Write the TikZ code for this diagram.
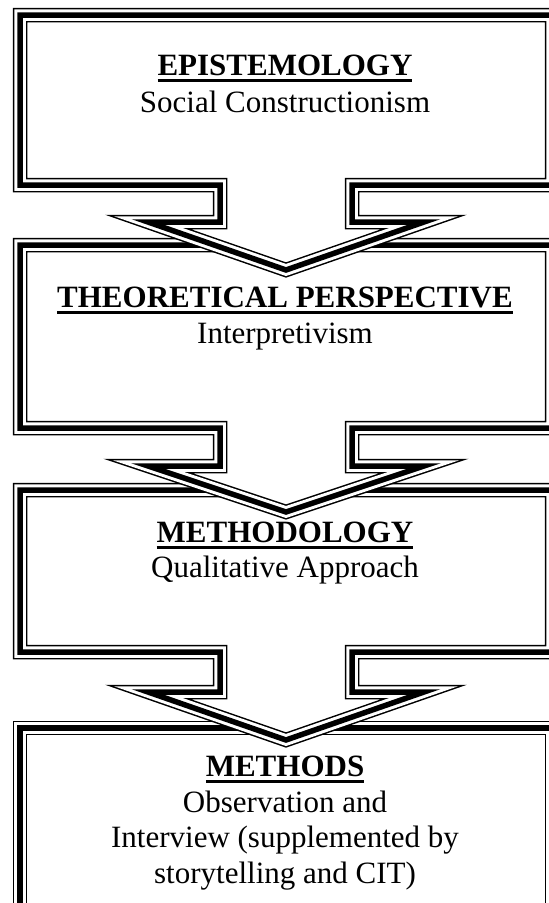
\documentclass[tikz,border=0pt]{standalone}
\usepackage{fontspec}
\setmainfont{Liberation Serif}

\newcommand{\ulhead}[1]{\setbox0\hbox{\bfseries #1}\rlap{\rule[-6.5pt]{\wd0}{2.4pt}}\box0}

\begin{document}
\begin{tikzpicture}[
    x=1pt, y=-1pt,
    frame/.style={draw=black, line width=14.5pt, fill=white, line join=miter,
      postaction={draw=white, line width=11.5pt},
      postaction={draw=black, line width=5.5pt}},
    head/.style={anchor=base, font=\fontsize{31}{35.5}\selectfont},
    body/.style={anchor=base, align=center, font=\fontsize{31}{35.5}\selectfont}
  ]
  \useasboundingbox (0,0) rectangle (549,903);
  \clip (0,0) rectangle (549,903);

  % lowest box first, so every arrow lies over the box below it
  \draw[frame] (20,728) rectangle (552,912);
  \draw[frame] (20,490) -- (552,490) -- (552,652) -- (352,652) -- (352,692)
    -- (424,692) -- (286,740) -- (148,692) -- (220,692) -- (220,652) -- (20,652) -- cycle;
  \draw[frame] (20,245) -- (552,245) -- (552,428) -- (352,428) -- (352,466)
    -- (424,466) -- (286,512) -- (148,466) -- (220,466) -- (220,428) -- (20,428) -- cycle;
  \draw[frame] (20,15) -- (552,15) -- (552,185) -- (352,185) -- (352,222)
    -- (424,222) -- (286,270) -- (148,222) -- (220,222) -- (220,185) -- (20,185) -- cycle;

  \node[head] (epi) at (285,75) {\ulhead{EPISTEMOLOGY}};
  \node[body] (epi-txt) at (285,112) {Social Constructionism};
  \node[head] (theo) at (285,307) {\ulhead{THEORETICAL PERSPECTIVE}};
  \node[body] (theo-txt) at (285,343) {Interpretivism};
  \node[head] (meth) at (285,542) {\ulhead{METHODOLOGY}};
  \node[body] (meth-txt) at (285,577) {Qualitative Approach};
  \node[head] (mtds) at (285,776) {\ulhead{METHODS}};
  % base of a multi-line node is its last line
  \node[body] (mtds-txt) at (285,883) {Observation and\\Interview (supplemented by\\storytelling and CIT)};
\end{tikzpicture}
\end{document}
